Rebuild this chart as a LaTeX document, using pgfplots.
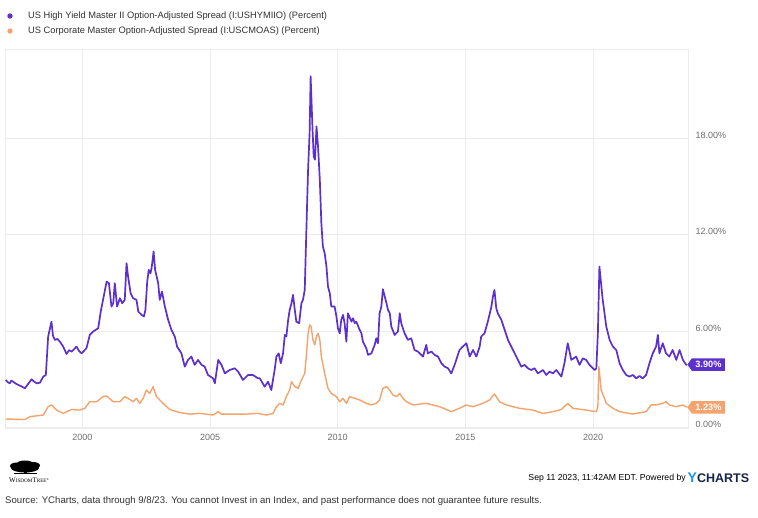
\documentclass[border=0pt]{standalone}
\usepackage{pgfplots}
\pgfplotsset{compat=1.18}
\usepackage{pgfplotstable}
\usepackage{fontspec}
\setmainfont{Liberation Sans}
\newfontfamily\logofont{Liberation Serif}
\usetikzlibrary{shapes.symbols}

\definecolor{hy}{RGB}{92,48,204}
\definecolor{ig}{RGB}{245,163,108}
\definecolor{ticktxt}{RGB}{110,110,110}
\definecolor{legtxt}{RGB}{50,50,50}
\definecolor{gridc}{RGB}{236,236,236}
\definecolor{ycblue}{RGB}{28,150,232}
\definecolor{ycnavy}{RGB}{22,36,70}

% ICE BofA US High Yield OAS (percent)
\pgfplotstableread{
year val
1997.00 2.94
1997.08 2.80
1997.16 2.73
1997.22 2.90
1997.29 2.83
1997.40 2.70
1997.49 2.63
1997.60 2.55
1997.75 2.42
1997.88 2.70
1998.01 2.98
1998.10 2.85
1998.21 2.73
1998.34 2.77
1998.47 3.15
1998.57 3.25
1998.66 5.65
1998.79 6.58
1998.85 5.70
1998.92 5.44
1999.02 5.50
1999.12 5.33
1999.25 5.02
1999.38 4.56
1999.48 4.80
1999.58 4.71
1999.67 4.85
1999.77 5.02
1999.87 4.75
1999.97 4.60
2000.16 4.92
2000.29 5.75
2000.42 5.96
2000.62 6.17
2000.72 7.21
2000.81 7.94
2000.95 9.08
2001.04 8.98
2001.14 7.52
2001.21 7.73
2001.27 8.98
2001.36 7.52
2001.47 8.04
2001.56 7.73
2001.66 7.94
2001.73 10.23
2001.79 9.40
2001.89 8.35
2001.99 8.04
2002.12 7.94
2002.19 7.21
2002.32 7.00
2002.41 6.90
2002.47 7.31
2002.54 9.08
2002.60 9.81
2002.67 9.60
2002.72 10.02
2002.79 10.96
2002.85 9.81
2002.97 8.98
2003.03 7.94
2003.12 8.46
2003.23 7.52
2003.36 6.69
2003.49 6.06
2003.62 5.65
2003.71 5.02
2003.88 4.60
2004.01 3.77
2004.14 4.19
2004.27 4.40
2004.40 3.88
2004.53 4.19
2004.67 3.88
2004.79 3.77
2004.92 3.25
2005.12 3.04
2005.19 2.73
2005.32 4.19
2005.45 3.88
2005.58 3.35
2005.77 3.56
2005.97 3.67
2006.10 3.46
2006.29 2.94
2006.49 3.25
2006.68 3.25
2006.88 3.04
2006.95 3.04
2007.14 2.52
2007.27 2.83
2007.40 2.31
2007.53 3.56
2007.60 4.40
2007.69 4.60
2007.77 3.98
2007.86 4.60
2007.93 5.75
2007.99 5.65
2008.06 6.69
2008.12 7.31
2008.19 7.73
2008.25 8.25
2008.32 7.31
2008.38 6.58
2008.49 6.48
2008.58 7.73
2008.64 7.94
2008.71 8.56
2008.77 12.10
2008.84 16.06
2008.90 18.35
2008.94 21.90
2009.01 18.77
2009.06 16.90
2009.11 16.69
2009.17 18.77
2009.23 17.52
2009.30 15.44
2009.36 12.73
2009.42 11.27
2009.49 10.85
2009.56 10.02
2009.62 8.77
2009.69 8.35
2009.75 7.52
2009.88 7.52
2009.95 6.90
2010.01 6.17
2010.08 5.85
2010.14 6.69
2010.21 7.00
2010.27 6.48
2010.34 5.33
2010.40 7.10
2010.54 6.58
2010.60 6.79
2010.67 6.48
2010.73 6.58
2010.86 6.06
2010.93 5.85
2010.99 5.33
2011.12 4.92
2011.19 4.50
2011.32 4.60
2011.45 5.13
2011.51 5.54
2011.58 5.23
2011.64 7.10
2011.71 7.52
2011.77 8.60
2011.91 7.73
2011.97 7.31
2012.04 7.10
2012.10 6.27
2012.23 5.75
2012.36 5.96
2012.43 7.10
2012.49 6.48
2012.62 5.85
2012.75 5.44
2012.88 5.54
2013.01 4.81
2013.14 4.71
2013.34 4.40
2013.47 5.13
2013.53 4.60
2013.67 4.71
2013.80 4.50
2013.93 4.40
2014.06 3.98
2014.19 3.77
2014.32 3.67
2014.45 3.35
2014.58 3.88
2014.77 4.81
2014.90 5.02
2015.04 5.23
2015.17 4.40
2015.30 4.81
2015.43 4.40
2015.56 5.02
2015.62 5.65
2015.75 5.85
2015.88 6.58
2016.02 7.52
2016.08 8.15
2016.14 8.56
2016.21 7.42
2016.27 7.10
2016.41 6.69
2016.54 6.06
2016.67 5.44
2016.80 5.02
2016.93 4.60
2017.06 4.19
2017.19 3.77
2017.32 3.88
2017.45 3.67
2017.58 3.56
2017.71 3.67
2017.84 3.35
2018.04 3.56
2018.17 3.25
2018.30 3.46
2018.43 3.35
2018.56 3.56
2018.76 3.15
2018.88 3.98
2019.01 5.23
2019.15 4.19
2019.34 4.40
2019.47 3.88
2019.60 4.29
2019.73 4.19
2019.86 3.88
2020.06 3.56
2020.13 3.67
2020.19 5.85
2020.25 10.02
2020.38 7.94
2020.52 6.27
2020.65 5.44
2020.78 5.02
2020.91 4.81
2021.04 3.98
2021.17 3.56
2021.30 3.25
2021.43 3.15
2021.56 3.25
2021.69 3.04
2021.82 3.19
2021.95 3.04
2022.08 3.25
2022.21 3.98
2022.34 4.60
2022.47 5.02
2022.54 5.75
2022.60 4.60
2022.73 5.23
2022.86 4.60
2022.99 4.40
2023.12 4.81
2023.26 4.19
2023.39 4.81
2023.52 4.19
2023.65 3.88
2023.69 3.90
}\hytable

% ICE BofA US Corporate OAS (percent)
\pgfplotstableread{
year val
1997.00 0.50
1997.75 0.47
1997.95 0.65
1998.47 0.75
1998.66 1.27
1998.79 1.38
1998.99 1.06
1999.25 0.85
1999.58 1.10
1999.90 1.06
2000.10 1.17
2000.29 1.58
2000.56 1.58
2000.81 1.90
2000.95 1.94
2001.21 1.58
2001.47 1.58
2001.66 1.90
2001.79 1.79
2001.99 1.58
2002.12 1.79
2002.25 1.48
2002.38 1.79
2002.51 2.31
2002.64 2.10
2002.77 2.52
2002.90 1.90
2003.16 1.48
2003.42 1.10
2003.82 0.90
2004.21 0.81
2004.60 0.85
2005.12 0.75
2005.32 0.96
2005.45 0.81
2005.90 0.81
2006.43 0.81
2006.88 0.85
2007.21 0.75
2007.47 0.85
2007.60 1.27
2007.73 1.48
2007.86 1.38
2007.99 1.90
2008.12 2.31
2008.19 2.83
2008.32 2.52
2008.45 2.42
2008.58 2.94
2008.71 3.35
2008.77 4.40
2008.84 5.85
2008.90 6.38
2008.96 6.27
2009.03 5.44
2009.10 5.13
2009.17 5.65
2009.23 5.85
2009.30 5.44
2009.36 4.40
2009.49 3.35
2009.62 2.42
2009.75 2.10
2009.95 1.90
2010.08 1.58
2010.21 1.79
2010.34 1.48
2010.47 1.90
2010.67 1.79
2010.86 1.69
2011.12 1.48
2011.32 1.38
2011.51 1.48
2011.64 1.69
2011.77 2.42
2011.91 2.52
2012.04 2.31
2012.16 2.00
2012.30 1.90
2012.43 2.10
2012.56 1.79
2012.69 1.58
2012.95 1.38
2013.47 1.48
2013.99 1.27
2014.25 1.10
2014.45 0.96
2014.77 1.17
2015.04 1.38
2015.30 1.27
2015.69 1.48
2015.95 1.69
2016.14 2.06
2016.34 1.58
2016.60 1.38
2017.12 1.17
2017.64 1.06
2018.04 0.85
2018.43 0.96
2018.76 1.10
2019.01 1.48
2019.21 1.17
2019.73 1.06
2020.13 0.96
2020.19 1.27
2020.23 3.77
2020.32 2.31
2020.52 1.48
2020.78 1.17
2021.04 0.96
2021.56 0.81
2022.08 0.96
2022.28 1.38
2022.47 1.38
2022.73 1.48
2022.86 1.58
2022.99 1.38
2023.26 1.27
2023.52 1.38
2023.69 1.23
}\igtable

\begin{document}
\begin{tikzpicture}[x=1pt,y=1pt]
\path[fill=white] (0,0) rectangle (758,517);

\begin{axis}[
  at={(5pt,89pt)}, anchor=south west,
  width=683pt, height=379pt, scale only axis,
  xmin=1996.97, xmax=2023.72,
  ymin=-0.06, ymax=23.6,
  axis line style={draw=gridc},
  grid=major, grid style={draw=gridc, line width=0.8pt},
  major tick length=0pt,
  xtick={2000,2005,2010,2015,2020},
  ytick={0,6,12,18},
  yticklabel pos=right,
  /pgf/number format/assume math mode=true,
  xticklabel style={/pgf/number format/1000 sep={}, font=\fontsize{9}{10}\selectfont, text=ticktxt, yshift=-3pt},
  yticklabel={\pgfmathprintnumber[fixed,fixed zerofill,precision=2]{\tick}\%},
  yticklabel style={font=\fontsize{9}{10}\selectfont, text=ticktxt, anchor=west, xshift=4pt, yshift=3pt},
  clip=false,
]
\addplot[ig, line width=1.4pt, line join=round] table[x=year,y=val] {\igtable};
\addplot[hy, line width=1.7pt, line join=round] table[x=year,y=val] {\hytable};
\node[signal, signal to=west, signal pointer angle=110, fill=hy, text=white,
      font=\bfseries\fontsize{9.2}{10}\selectfont, inner xsep=3.5pt, inner ysep=3pt, anchor=west]
      at (axis cs:2023.69,3.90) {3.90\%};
\node[signal, signal to=west, signal pointer angle=110, fill=ig, text=white,
      font=\bfseries\fontsize{9.2}{10}\selectfont, inner xsep=3.5pt, inner ysep=3pt, anchor=west]
      at (axis cs:2023.69,1.23) {1.23\%};
\end{axis}

% legend
\fill[hy] (10,501) circle (2.7);
\node[anchor=west, inner sep=0, text=legtxt, font=\fontsize{9.3}{11}\selectfont] at (28,501)
  {US High Yield Master II Option-Adjusted Spread (I:USHYMIIO) (Percent)};
\fill[ig] (10,486) circle (2.7);
\node[anchor=west, inner sep=0, text=legtxt, font=\fontsize{9.3}{11}\selectfont] at (28,486)
  {US Corporate Master Option-Adjusted Spread (I:USCMOAS) (Percent)};

% logo
\begin{scope}
  \fill[black] (25,49) ellipse (14 and 4.5);
  \fill[black] (17,51) ellipse (7 and 3.5);
  \fill[black] (33,51.5) ellipse (7 and 3.5);
  \fill[black] (25,53.5) ellipse (8 and 3);
  \fill[black] (24,43) rectangle (26.5,47);
  \fill[black] (14,42.6) rectangle (37,43.6);
\end{scope}
\node[anchor=west, inner sep=0, font=\logofont] at (9,37)
  {{\fontsize{7}{7}\selectfont W}{\fontsize{5.2}{6}\selectfont ISDOM}{\fontsize{7}{7}\selectfont T}{\fontsize{5.2}{6}\selectfont REE}{\fontsize{3}{3}\selectfont\raisebox{2pt}{®}}};

% timestamp and credits
\node[anchor=east, inner sep=0, text=black, font=\fontsize{8.7}{10}\selectfont] at (686,39)
  {Sep 11 2023, 11:42AM EDT. Powered by};
\node[anchor=west, inner sep=0, font=\bfseries\fontsize{12.5}{14}\selectfont] at (687.5,39.5)
  {\textcolor{ycblue}{\fontsize{14}{14}\selectfont Y}\textcolor{ycnavy}{CHARTS}};
\node[anchor=west, inner sep=0, text=legtxt, font=\fontsize{9.6}{11}\selectfont] at (5,16)
  {Source: YCharts, data through 9/8/23. You cannot Invest in an Index, and past performance does not guarantee future results.};
\end{tikzpicture}
\end{document}
